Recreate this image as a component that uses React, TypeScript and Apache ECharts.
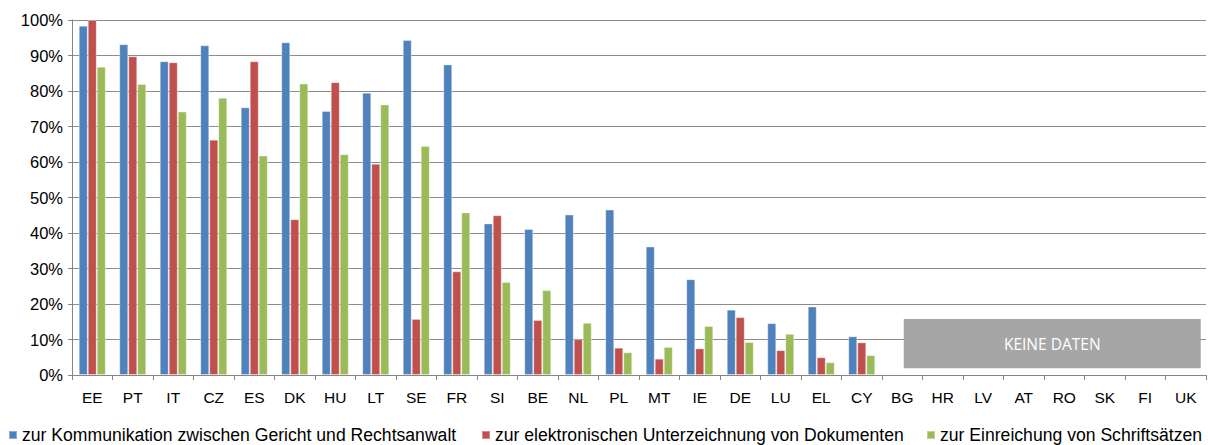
import React, { useEffect, useRef } from "react";
import * as echarts from "echarts";

const categories = ["EE","PT","IT","CZ","ES","DK","HU","LT","SE","FR","SI","BE","NL","PL","MT","IE","DE","LU","EL","CY","BG","HR","LV","AT","RO","SK","FI","UK"];
const seriesNames = [
  "zur Kommunikation zwischen Gericht und Rechtsanwalt",
  "zur elektronischen Unterzeichnung von Dokumenten",
  "zur Einreichung von Schriftsätzen",
];
const kommunikation = [98.4,93.2,88.4,92.9,75.4,93.7,74.4,79.5,94.4,87.5,42.7,41.1,45.2,46.6,36.2,27.0,18.4,14.6,19.3,10.9,null,null,null,null,null,null,null,null];
const unterzeichnung = [100,89.8,88.1,66.3,88.4,43.9,82.5,59.5,15.8,29.2,45.0,15.5,10.1,7.7,4.6,7.5,16.3,7.0,5.0,9.2,null,null,null,null,null,null,null,null];
const einreichung = [86.8,82.0,74.2,78.1,61.8,82.1,62.2,76.2,64.5,45.8,26.2,23.9,14.7,6.4,7.9,13.8,9.3,11.6,3.6,5.6,null,null,null,null,null,null,null,null];
const colors = ["#4f81bd", "#c0504d", "#9bbb59"];
const noDataLabel = "KEINE DATEN";

export default function App() {
  const ref = useRef<HTMLDivElement>(null);
  useEffect(() => {
    if (!ref.current) return;
    const chart = echarts.init(ref.current, null, { renderer: "svg" });
    const font = "'Liberation Sans', Arial, sans-serif";
    const mk = (name: string, data: (number | null)[], color: string) => ({
      name,
      type: "bar",
      data,
      barWidth: 9,
      barGap: "0%",
      itemStyle: { color, borderColor: "rgba(255,255,255,0.35)", borderWidth: 1 },
    });
    const legendBase = {
      icon: "rect",
      itemWidth: 8,
      itemHeight: 8,
      top: 426,
      padding: 0,
      textStyle: { fontFamily: font, fontSize: 17.6, color: "#000" },
    };
    chart.setOption({
      animation: false,
      color: colors,
      grid: { left: 72, right: 2, top: 20, bottom: 70, containLabel: false },
      legend: [
        { ...legendBase, left: 8, data: [seriesNames[0]] },
        { ...legendBase, left: 481, data: [seriesNames[1]] },
        { ...legendBase, left: 926, data: [seriesNames[2]] },
      ],
      xAxis: {
        type: "category",
        data: categories,
        axisLine: { lineStyle: { color: "#868686", width: 1 } },
        axisTick: { show: true, interval: 0, length: 5, lineStyle: { color: "#868686" } },
        axisLabel: { interval: 0, margin: 14, fontFamily: font, fontSize: 15.5, color: "#000" },
      },
      yAxis: {
        type: "value",
        min: 0,
        max: 100,
        interval: 10,
        axisLine: { show: true, lineStyle: { color: "#868686", width: 1 } },
        axisTick: { show: true, length: 4, lineStyle: { color: "#868686" } },
        axisLabel: { formatter: "{value}%", margin: 9, fontFamily: font, fontSize: 16.5, color: "#000" },
        splitLine: { lineStyle: { color: "#8c8c8c", width: 1 } },
      },
      series: [
        mk(seriesNames[0], kommunikation, colors[0]),
        mk(seriesNames[1], unterzeichnung, colors[1]),
        mk(seriesNames[2], einreichung, colors[2]),
      ],
    });
    const [x0, y0] = chart.convertToPixel({ xAxisIndex: 0, yAxisIndex: 0 }, [categories[20], 15.8]) as number[];
    const [x1, y1] = chart.convertToPixel({ xAxisIndex: 0, yAxisIndex: 0 }, [categories[27], 1.9]) as number[];
    const left = x0 + 1.5;
    const right = x1 + 15;
    chart.setOption({
      graphic: [
        {
          type: "rect",
          shape: { x: left, y: y0, width: right - left, height: y1 - y0 },
          style: { fill: "#a6a6a6" },
          z: 10,
        },
        {
          type: "text",
          x: (left + right) / 2,
          y: (y0 + y1) / 2,
          style: {
            text: noDataLabel,
            fill: "#ffffff",
            font: "15.5px 'Open Sans', sans-serif",
            textAlign: "center",
            textVerticalAlign: "middle",
          },
          z: 11,
        },
      ],
    });
    return () => chart.dispose();
  }, []);
  return <div ref={ref} style={{ width: 1208, height: 445, position: "absolute", left: 0, top: 0 }} />;
}
